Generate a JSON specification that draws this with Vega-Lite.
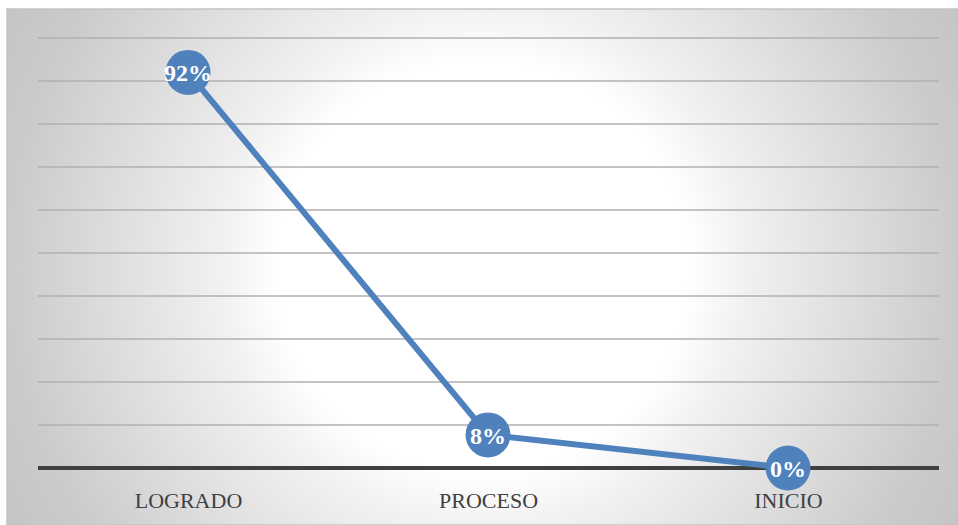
{
  "$schema": "https://vega.github.io/schema/vega-lite/v6.json",
  "width": 951,
  "height": 516,
  "autosize": {"type": "none"},
  "padding": {"left": 7, "top": 9, "right": 0, "bottom": 0},
  "background": "#ffffff",
  "view": {
    "fill": {
      "gradient": "radial",
      "x1": 0.5, "y1": 0.5, "r1": 0,
      "x2": 0.5, "y2": 0.5, "r2": 0.6,
      "stops": [
        {"offset": 0, "color": "#ffffff"},
        {"offset": 0.36, "color": "#ffffff"},
        {"offset": 0.46, "color": "#f1f1f1"},
        {"offset": 0.83, "color": "#cbcbcb"},
        {"offset": 1, "color": "#c2c2c2"}
      ]
    },
    "stroke": "#c4c4c4",
    "strokeWidth": 1.5
  },
  "datasets": {
    "niveles": [
      {"nivel": "LOGRADO", "porcentaje": 0.92, "etiqueta": "92%"},
      {"nivel": "PROCESO", "porcentaje": 0.077, "etiqueta": "8%"},
      {"nivel": "INICIO", "porcentaje": 0, "etiqueta": "0%"}
    ],
    "rejilla": [
      {"nivel_grid": 0.1}, {"nivel_grid": 0.2}, {"nivel_grid": 0.3}, {"nivel_grid": 0.4}, {"nivel_grid": 0.5},
      {"nivel_grid": 0.6}, {"nivel_grid": 0.7}, {"nivel_grid": 0.8}, {"nivel_grid": 0.9}, {"nivel_grid": 1.0}
    ]
  },
  "resolve": {"scale": {"x": "independent"}},
  "layer": [
    {
      "data": {"name": "rejilla"},
      "mark": {"type": "rule", "color": "#b0b0b0", "strokeWidth": 1.5},
      "encoding": {
        "x": {"datum": 0, "type": "quantitative", "scale": {"domain": [-0.0344, 1.0211], "nice": false, "zero": false}, "axis": null},
        "x2": {"datum": 1},
        "y": {"field": "nivel_grid", "type": "quantitative", "scale": {"domain": [-0.13256, 1.06744], "nice": false, "zero": false}, "axis": null}
      }
    },
    {
      "data": {"name": "rejilla"},
      "transform": [{"filter": "datum.nivel_grid == 0.1"}],
      "mark": {"type": "rule", "color": "#404040", "strokeWidth": 4},
      "encoding": {
        "x": {"datum": 0, "type": "quantitative", "scale": {"domain": [-0.0344, 1.0211], "nice": false, "zero": false}, "axis": null},
        "x2": {"datum": 1},
        "y": {"datum": 0, "type": "quantitative"}
      }
    },
    {
      "data": {"name": "niveles"},
      "mark": {"type": "line", "color": "#4f81bd", "strokeWidth": 6},
      "encoding": {
        "x": {
          "field": "nivel",
          "type": "nominal",
          "sort": ["LOGRADO", "PROCESO", "INICIO"],
          "scale": {"type": "point", "padding": 0.585, "align": 0.5157},
          "axis": {
            "title": null,
            "orient": "bottom",
            "offset": -25,
            "domain": false,
            "ticks": false,
            "grid": false,
            "labelPadding": 0,
            "labelBaseline": "middle",
            "labelAngle": 0,
            "labelFont": "Liberation Serif",
            "labelFontSize": 22,
            "labelColor": "#404040"
          }
        },
        "y": {"field": "porcentaje", "type": "quantitative"}
      }
    },
    {
      "data": {"name": "niveles"},
      "mark": {"type": "point", "shape": "circle", "filled": true, "color": "#4f81bd", "opacity": 1, "size": 2025},
      "encoding": {
        "x": {"field": "nivel", "type": "nominal", "sort": ["LOGRADO", "PROCESO", "INICIO"], "scale": {"type": "point", "padding": 0.585, "align": 0.5157}, "axis": null},
        "y": {"field": "porcentaje", "type": "quantitative"}
      }
    },
    {
      "data": {"name": "niveles"},
      "mark": {
        "type": "text",
        "color": "#ffffff",
        "font": "Liberation Serif",
        "fontWeight": "bold",
        "fontSize": 24,
        "baseline": "middle",
        "align": "center",
        "dy": 2
      },
      "encoding": {
        "x": {"field": "nivel", "type": "nominal", "sort": ["LOGRADO", "PROCESO", "INICIO"], "scale": {"type": "point", "padding": 0.585, "align": 0.5157}, "axis": null},
        "y": {"field": "porcentaje", "type": "quantitative"},
        "text": {"field": "etiqueta"}
      }
    }
  ]
}
